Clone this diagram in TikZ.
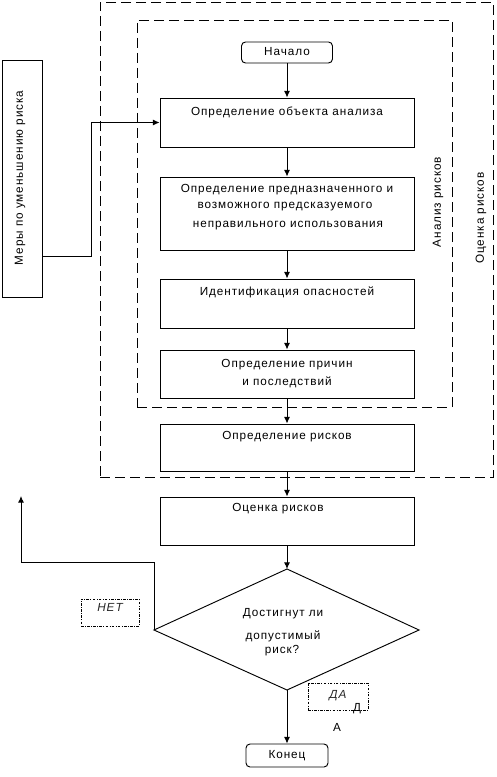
\documentclass[tikz,border=0pt]{standalone}
\usepackage{fontspec}
\setmainfont{Liberation Sans}[LetterSpace=8]
\usetikzlibrary{arrows.meta}
\begin{document}
\begin{tikzpicture}[x=0.75pt,y=-0.75pt,
  every node/.style={font=\fontsize{8.8pt}{10pt}\selectfont},
  box/.style={draw, line width=0.7pt, inner sep=0pt, minimum width=190.5pt},
  rbox/.style={draw, line width=0.7pt, inner sep=0pt, rounded corners=3pt},
  dashbox/.style={draw, line width=0.7pt, inner sep=0pt, dash pattern=on 7.5pt off 3.75pt},
  lblbox/.style={draw, line width=0.5pt, inner sep=0pt, dash pattern=on 2pt off 1pt on 0.6pt off 1pt, minimum height=20.25pt},
  txt/.style={inner sep=0pt, anchor=center},
  itxt/.style={inner sep=0pt, font=\fontsize{8.8pt}{10pt}\selectfont\itshape, text=black!85},
  arr/.style={line width=0.7pt, -{Latex[length=5pt,width=4.5pt]}},
  ln/.style={line width=0.7pt}
]
\useasboundingbox (0,0) rectangle (496,777);

% dashed frames
\node[dashbox, minimum width=294.75pt, minimum height=356.25pt] (outer) at (296.5,239.5) {};
\node[dashbox, minimum width=236.25pt, minimum height=290.25pt] (inner) at (294.5,213.5) {};
\node[txt, rotate=90] (lana) at (438,202) {Анализ рисков};
\node[txt, rotate=90] (locen) at (481,218) {Оценка рисков};

% start
\node[rbox, minimum width=68.25pt, minimum height=15.75pt] (start) at (287,52.5) {};
\node[txt] (tstart) at (287,52) {Начало};

% boxes
\node[box, minimum height=36.75pt] (b1) at (287,122.5) {};
\node[txt] (t1) at (287,112) {Определение объекта анализа};

\node[box, minimum height=54.75pt] (b2) at (287,213.5) {};
\node[txt] (t2a) at (287,190) {Определение предназначенного и};
\node[txt] (t2b) at (285,207) {возможного предсказуемого};
\node[txt] (t2c) at (288,226) {неправильного использования};

\node[box, minimum height=36.75pt] (b3) at (287,303.5) {};
\node[txt] (t3) at (287,292) {Идентификация опасностей};

\node[box, minimum height=36pt] (b4) at (287,374) {};
\node[txt] (t4a) at (287,365) {Определение причин};
\node[txt] (t4b) at (287,382) {и последствий};

\node[box, minimum height=35.25pt] (b5) at (287,447.5) {};
\node[txt] (t5) at (287,437) {Определение рисков};

\node[box, minimum height=36pt] (b6) at (287,521) {};
\node[txt] (t6) at (278,509) {Оценка рисков};

% diamond
\coordinate (dt) at (287,569);
\coordinate (dl) at (154,630);
\coordinate (dr) at (419,630);
\coordinate (db) at (287,690);
\draw[ln] (dt) -- (dr) -- (db) -- (dl) -- cycle;
\node[txt] (q1) at (283,614) {Достигнут ли};
\node[txt] (q2) at (283,636) {допустимый};
\node[txt] (q3) at (282,651) {риск?};

% end
\node[rbox, minimum width=61.5pt, minimum height=17.25pt] (end) at (287,755.5) {};
\node[txt] (tend) at (287,756) {Конец};

% left box
\node[draw, line width=0.7pt, inner sep=0pt, minimum width=30pt, minimum height=177.75pt] (lb) at (22,178.5) {};
\node[txt, rotate=90] (tlb) at (20,178) {Меры по уменьшению риска};

% label boxes
\node[lblbox, minimum width=43.5pt] (no) at (110,612.5) {};
\node[itxt] (tno) at (110,607) {НЕТ};
\node[lblbox, minimum width=45pt] (yes) at (338,696.5) {};
\node[itxt] (tyes) at (338,696) {ДА};
\node[txt] (ya) at (357,709) {Д};
\node[txt] (yb) at (337,727) {А};

% connectors
\draw[arr] (start) -- (b1);
\draw[arr] (b1) -- (b2);
\draw[arr] (b2) -- (b3);
\draw[arr] (b3) -- (b4);
\draw[arr] (b4) -- (b5);
\draw[arr] (b5) -- (b6);
\draw[arr] (b6) -- (dt);
\draw[arr] (db) -- (end);
\coordinate (ret) at (21,496);
\draw[arr] (dl) -- (154,562) -- (21,562) -- (ret);
\draw[arr] (lb.east |- 0,256) -- (91,256) |- (b1.west);
\end{tikzpicture}
\end{document}
